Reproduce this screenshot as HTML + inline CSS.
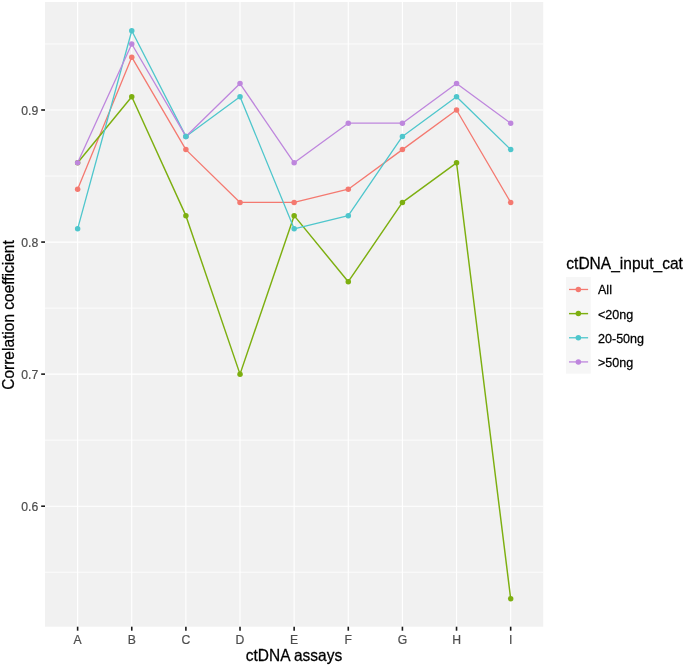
<!DOCTYPE html>
<html><head><meta charset="utf-8"><title>ctDNA assays correlation</title>
<style>html,body{margin:0;padding:0;background:#fff}svg{display:block}</style></head>
<body>
<svg width="685" height="667" viewBox="0 0 685 667" font-family="Liberation Sans, Arial, sans-serif">
<rect width="685" height="667" fill="#fff"/>
<rect x="45.0" y="2.0" width="498.20" height="624.70" fill="#F1F1F1"/>
<line x1="45.0" x2="543.2" y1="572.23" y2="572.23" stroke="#fff" stroke-width="0.8"/>
<line x1="45.0" x2="543.2" y1="440.17" y2="440.17" stroke="#fff" stroke-width="0.8"/>
<line x1="45.0" x2="543.2" y1="308.10" y2="308.10" stroke="#fff" stroke-width="0.8"/>
<line x1="45.0" x2="543.2" y1="176.03" y2="176.03" stroke="#fff" stroke-width="0.8"/>
<line x1="45.0" x2="543.2" y1="43.97" y2="43.97" stroke="#fff" stroke-width="0.8"/>
<line x1="45.0" x2="543.2" y1="506.20" y2="506.20" stroke="#fff" stroke-width="1.15"/>
<line x1="45.0" x2="543.2" y1="374.13" y2="374.13" stroke="#fff" stroke-width="1.15"/>
<line x1="45.0" x2="543.2" y1="242.07" y2="242.07" stroke="#fff" stroke-width="1.15"/>
<line x1="45.0" x2="543.2" y1="110.00" y2="110.00" stroke="#fff" stroke-width="1.15"/>
<line y1="2.0" y2="626.7" x1="77.63" x2="77.63" stroke="#fff" stroke-width="1.15"/>
<line y1="2.0" y2="626.7" x1="131.76" x2="131.76" stroke="#fff" stroke-width="1.15"/>
<line y1="2.0" y2="626.7" x1="185.89" x2="185.89" stroke="#fff" stroke-width="1.15"/>
<line y1="2.0" y2="626.7" x1="240.02" x2="240.02" stroke="#fff" stroke-width="1.15"/>
<line y1="2.0" y2="626.7" x1="294.15" x2="294.15" stroke="#fff" stroke-width="1.15"/>
<line y1="2.0" y2="626.7" x1="348.28" x2="348.28" stroke="#fff" stroke-width="1.15"/>
<line y1="2.0" y2="626.7" x1="402.41" x2="402.41" stroke="#fff" stroke-width="1.15"/>
<line y1="2.0" y2="626.7" x1="456.54" x2="456.54" stroke="#fff" stroke-width="1.15"/>
<line y1="2.0" y2="626.7" x1="510.67" x2="510.67" stroke="#fff" stroke-width="1.15"/>
<polyline points="77.63,189.24 131.76,57.17 185.89,149.62 240.02,202.45 294.15,202.45 348.28,189.24 402.41,149.62 456.54,110.00 510.67,202.45" fill="none" stroke="#F47970" stroke-width="1.3" stroke-linejoin="round"/>
<polyline points="77.63,162.83 131.76,96.79 185.89,215.65 240.02,374.13 294.15,215.65 348.28,281.69 402.41,202.45 456.54,162.83 510.67,598.65" fill="none" stroke="#7DAF10" stroke-width="1.45" stroke-linejoin="round"/>
<polyline points="77.63,228.86 131.76,30.76 185.89,136.41 240.02,96.79 294.15,228.86 348.28,215.65 402.41,136.41 456.54,96.79 510.67,149.62" fill="none" stroke="#4EC6CC" stroke-width="1.3" stroke-linejoin="round"/>
<polyline points="77.63,162.83 131.76,43.97 185.89,136.41 240.02,83.59 294.15,162.83 348.28,123.21 402.41,123.21 456.54,83.59 510.67,123.21" fill="none" stroke="#BE86DD" stroke-width="1.3" stroke-linejoin="round"/>
<circle cx="77.63" cy="189.24" r="2.75" fill="#F47970"/>
<circle cx="131.76" cy="57.17" r="2.75" fill="#F47970"/>
<circle cx="185.89" cy="149.62" r="2.75" fill="#F47970"/>
<circle cx="240.02" cy="202.45" r="2.75" fill="#F47970"/>
<circle cx="294.15" cy="202.45" r="2.75" fill="#F47970"/>
<circle cx="348.28" cy="189.24" r="2.75" fill="#F47970"/>
<circle cx="402.41" cy="149.62" r="2.75" fill="#F47970"/>
<circle cx="456.54" cy="110.00" r="2.75" fill="#F47970"/>
<circle cx="510.67" cy="202.45" r="2.75" fill="#F47970"/>
<circle cx="77.63" cy="162.83" r="2.75" fill="#7DAF10"/>
<circle cx="131.76" cy="96.79" r="2.75" fill="#7DAF10"/>
<circle cx="185.89" cy="215.65" r="2.75" fill="#7DAF10"/>
<circle cx="240.02" cy="374.13" r="2.75" fill="#7DAF10"/>
<circle cx="294.15" cy="215.65" r="2.75" fill="#7DAF10"/>
<circle cx="348.28" cy="281.69" r="2.75" fill="#7DAF10"/>
<circle cx="402.41" cy="202.45" r="2.75" fill="#7DAF10"/>
<circle cx="456.54" cy="162.83" r="2.75" fill="#7DAF10"/>
<circle cx="510.67" cy="598.65" r="2.75" fill="#7DAF10"/>
<circle cx="77.63" cy="228.86" r="2.75" fill="#4EC6CC"/>
<circle cx="131.76" cy="30.76" r="2.75" fill="#4EC6CC"/>
<circle cx="185.89" cy="136.41" r="2.75" fill="#4EC6CC"/>
<circle cx="240.02" cy="96.79" r="2.75" fill="#4EC6CC"/>
<circle cx="294.15" cy="228.86" r="2.75" fill="#4EC6CC"/>
<circle cx="348.28" cy="215.65" r="2.75" fill="#4EC6CC"/>
<circle cx="402.41" cy="136.41" r="2.75" fill="#4EC6CC"/>
<circle cx="456.54" cy="96.79" r="2.75" fill="#4EC6CC"/>
<circle cx="510.67" cy="149.62" r="2.75" fill="#4EC6CC"/>
<circle cx="77.63" cy="162.83" r="2.75" fill="#BE86DD"/>
<circle cx="131.76" cy="43.97" r="2.75" fill="#BE86DD"/>
<circle cx="185.89" cy="136.41" r="2.75" fill="#BE86DD"/>
<circle cx="240.02" cy="83.59" r="2.75" fill="#BE86DD"/>
<circle cx="294.15" cy="162.83" r="2.75" fill="#BE86DD"/>
<circle cx="348.28" cy="123.21" r="2.75" fill="#BE86DD"/>
<circle cx="402.41" cy="123.21" r="2.75" fill="#BE86DD"/>
<circle cx="456.54" cy="83.59" r="2.75" fill="#BE86DD"/>
<circle cx="510.67" cy="123.21" r="2.75" fill="#BE86DD"/>
<circle cx="185.89" cy="136.41" r="2.75" fill="#4EC6CC"/>
<line x1="41.2" x2="45.0" y1="506.20" y2="506.20" stroke="#1a1a1a" stroke-width="1.6"/>
<text transform="translate(38.20,510.70) scale(1,1.05)" font-size="12.2" fill="#4D4D4D" stroke="#4D4D4D" stroke-width="0.2" text-anchor="end">0.6</text>
<line x1="41.2" x2="45.0" y1="374.13" y2="374.13" stroke="#1a1a1a" stroke-width="1.6"/>
<text transform="translate(38.20,378.63) scale(1,1.05)" font-size="12.2" fill="#4D4D4D" stroke="#4D4D4D" stroke-width="0.2" text-anchor="end">0.7</text>
<line x1="41.2" x2="45.0" y1="242.07" y2="242.07" stroke="#1a1a1a" stroke-width="1.6"/>
<text transform="translate(38.20,246.57) scale(1,1.05)" font-size="12.2" fill="#4D4D4D" stroke="#4D4D4D" stroke-width="0.2" text-anchor="end">0.8</text>
<line x1="41.2" x2="45.0" y1="110.00" y2="110.00" stroke="#1a1a1a" stroke-width="1.6"/>
<text transform="translate(38.20,114.50) scale(1,1.05)" font-size="12.2" fill="#4D4D4D" stroke="#4D4D4D" stroke-width="0.2" text-anchor="end">0.9</text>
<line y1="626.7" y2="630.7" x1="77.63" x2="77.63" stroke="#1a1a1a" stroke-width="1.6"/>
<text transform="translate(77.63,643.85) scale(1,1.05)" font-size="12.2" fill="#4D4D4D" stroke="#4D4D4D" stroke-width="0.2" text-anchor="middle">A</text>
<line y1="626.7" y2="630.7" x1="131.76" x2="131.76" stroke="#1a1a1a" stroke-width="1.6"/>
<text transform="translate(131.76,643.85) scale(1,1.05)" font-size="12.2" fill="#4D4D4D" stroke="#4D4D4D" stroke-width="0.2" text-anchor="middle">B</text>
<line y1="626.7" y2="630.7" x1="185.89" x2="185.89" stroke="#1a1a1a" stroke-width="1.6"/>
<text transform="translate(185.89,643.85) scale(1,1.05)" font-size="12.2" fill="#4D4D4D" stroke="#4D4D4D" stroke-width="0.2" text-anchor="middle">C</text>
<line y1="626.7" y2="630.7" x1="240.02" x2="240.02" stroke="#1a1a1a" stroke-width="1.6"/>
<text transform="translate(240.02,643.85) scale(1,1.05)" font-size="12.2" fill="#4D4D4D" stroke="#4D4D4D" stroke-width="0.2" text-anchor="middle">D</text>
<line y1="626.7" y2="630.7" x1="294.15" x2="294.15" stroke="#1a1a1a" stroke-width="1.6"/>
<text transform="translate(294.15,643.85) scale(1,1.05)" font-size="12.2" fill="#4D4D4D" stroke="#4D4D4D" stroke-width="0.2" text-anchor="middle">E</text>
<line y1="626.7" y2="630.7" x1="348.28" x2="348.28" stroke="#1a1a1a" stroke-width="1.6"/>
<text transform="translate(348.28,643.85) scale(1,1.05)" font-size="12.2" fill="#4D4D4D" stroke="#4D4D4D" stroke-width="0.2" text-anchor="middle">F</text>
<line y1="626.7" y2="630.7" x1="402.41" x2="402.41" stroke="#1a1a1a" stroke-width="1.6"/>
<text transform="translate(402.41,643.85) scale(1,1.05)" font-size="12.2" fill="#4D4D4D" stroke="#4D4D4D" stroke-width="0.2" text-anchor="middle">G</text>
<line y1="626.7" y2="630.7" x1="456.54" x2="456.54" stroke="#1a1a1a" stroke-width="1.6"/>
<text transform="translate(456.54,643.85) scale(1,1.05)" font-size="12.2" fill="#4D4D4D" stroke="#4D4D4D" stroke-width="0.2" text-anchor="middle">H</text>
<line y1="626.7" y2="630.7" x1="510.67" x2="510.67" stroke="#1a1a1a" stroke-width="1.6"/>
<text transform="translate(510.67,643.85) scale(1,1.05)" font-size="12.2" fill="#4D4D4D" stroke="#4D4D4D" stroke-width="0.2" text-anchor="middle">I</text>
<text transform="translate(294.00,661.30) scale(1,1.05)" font-size="15.5" fill="#000" stroke="#000" stroke-width="0.25" text-anchor="middle">ctDNA assays</text>
<text transform="translate(13.80,315.00) rotate(-90) scale(1,1.02)" font-size="15.5" fill="#000" stroke="#000" stroke-width="0.25" text-anchor="middle">Correlation coefficient</text>
<text transform="translate(566.30,268.70) scale(1,1.02)" font-size="15.55" fill="#000" stroke="#000" stroke-width="0.25" text-anchor="start">ctDNA_input_cat</text>
<rect x="566" y="277" width="24.7" height="96.6" fill="#F6F6F6"/>
<line x1="569.0" x2="588.1" y1="289.47" y2="289.47" stroke="#F47970" stroke-width="1.3"/>
<circle cx="578.35" cy="289.47" r="2.75" fill="#F47970"/>
<text transform="translate(598.00,294.37) scale(1,1.05)" font-size="12.55" fill="#000" stroke="#000" stroke-width="0.25" text-anchor="start">All</text>
<line x1="569.0" x2="588.1" y1="313.62" y2="313.62" stroke="#7DAF10" stroke-width="1.45"/>
<circle cx="578.35" cy="313.62" r="2.75" fill="#7DAF10"/>
<text transform="translate(598.00,318.52) scale(1,1.05)" font-size="12.55" fill="#000" stroke="#000" stroke-width="0.25" text-anchor="start">&lt;20ng</text>
<line x1="569.0" x2="588.1" y1="337.77" y2="337.77" stroke="#4EC6CC" stroke-width="1.3"/>
<circle cx="578.35" cy="337.77" r="2.75" fill="#4EC6CC"/>
<text transform="translate(598.00,342.67) scale(1,1.05)" font-size="12.55" fill="#000" stroke="#000" stroke-width="0.25" text-anchor="start">20-50ng</text>
<line x1="569.0" x2="588.1" y1="361.92" y2="361.92" stroke="#BE86DD" stroke-width="1.3"/>
<circle cx="578.35" cy="361.92" r="2.75" fill="#BE86DD"/>
<text transform="translate(598.00,366.82) scale(1,1.05)" font-size="12.55" fill="#000" stroke="#000" stroke-width="0.25" text-anchor="start">&gt;50ng</text>
</svg>
</body></html>
